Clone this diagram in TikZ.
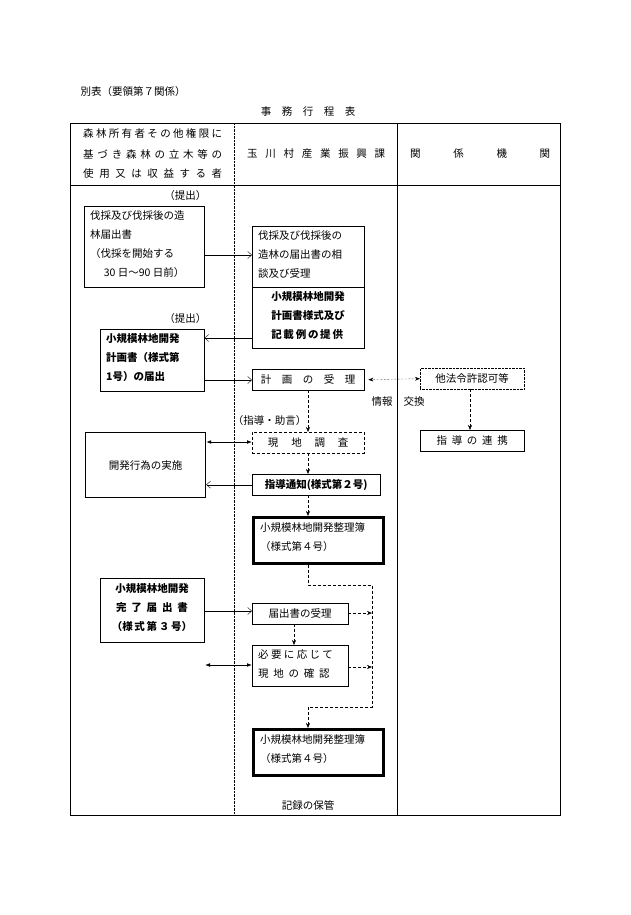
\documentclass[tikz,border=0pt]{standalone}
\usepackage{fontspec}
\setmainfont{Noto Sans CJK JP}
\usetikzlibrary{arrows.meta}
\begin{document}
\begin{tikzpicture}[x=1pt,y=-1pt,font=\fontsize{10.5}{12}\selectfont,
 bx/.style={draw,thin,inner sep=0,anchor=north west},
 bb/.style={bx,font=\fontsize{10.5}{12}\selectfont\bfseries},
 thk/.style={bx,line width=2.6pt},
 oa/.style={-{Straight Barb[length=4pt,width=7pt]}},
 da/.style={densely dashed,-{Stealth[length=5pt,width=4pt]}},
 dba/.style={thick,{Latex[length=5pt]}-{Latex[length=5pt]}}]
\useasboundingbox (0,0) rectangle (630,915);
\node[anchor=west] (ti0) at (77,92) {別表（要領第７関係）};
\node (ti) at (308,112) {事\quad 務\quad 行\quad 程\quad 表};
% table
\draw[thick] (70,123) rectangle (560,815);
\draw[thick] (70,185) -- (560,185);
\draw[densely dotted] (234,123) -- (234,815);
\draw (397,123) -- (397,815);
\node[anchor=west,inner sep=0] (h1) at (83,133) {\makebox[139pt][s]{森\hfill 林\hfill 所\hfill 有\hfill 者\hfill そ\hfill の\hfill 他\hfill 権\hfill 限\hfill に}};
\node[anchor=west,inner sep=0] (h2) at (83,154) {\makebox[139pt][s]{基\hfill づ\hfill き\hfill 森\hfill 林\hfill の\hfill 立\hfill 木\hfill 等\hfill の}};
\node[anchor=west,inner sep=0] (h3) at (83,174) {\makebox[139pt][s]{使\hfill 用\hfill 又\hfill は\hfill 収\hfill 益\hfill す\hfill る\hfill 者}};
\node[anchor=west,inner sep=0] (h4) at (247,154) {\makebox[138pt][s]{玉\hfill 川\hfill 村\hfill 産\hfill 業\hfill 振\hfill 興\hfill 課}};
\node[anchor=west,inner sep=0] (h5) at (410,154) {\makebox[140pt][s]{関\hfill 係\hfill 機\hfill 関}};
% boxes
\node[anchor=east] (t1) at (210,196) {（提出）};
\node[bx,minimum width=120,minimum height=81] (A) at (84,206) {};
\node[anchor=north west,inner sep=0,align=left] (At) at (90,210) {伐採及び伐採後の造\\[7pt]林届出書\\[7pt]（伐採を開始する\\[7pt]\hspace{1.3em}30 日～90 日前）};
\node[bx,minimum width=112,minimum height=61] (B) at (252,226) {};
\node[anchor=north west,inner sep=0,align=left] (Bt) at (258,230) {伐採及び伐採後の\\[7pt]造林の届出書の相\\[7pt]談及び受理};
\node[bx,minimum width=112,minimum height=61] (C) at (252,287) {};
\node[anchor=north,inner sep=0,align=left,font=\fontsize{10.5}{12}\selectfont\bfseries] (Ct) at (308,291) {小規模林地開発\\[7pt]計画書様式及び\\[7pt]記\,載\,例\,の\,提\,供};
\node[anchor=east] (t2) at (210,319) {（提出）};
\node[bx,minimum width=104,minimum height=62] (D) at (100,329) {};
\node[anchor=north west,inner sep=0,align=left,font=\fontsize{10.5}{12}\selectfont\bfseries] (Dt) at (106,333) {小規模林地開発\\[7pt]計画書（様式第\\[7pt]1号）の届出};
\node[bx,minimum width=112,minimum height=21] (E) at (252,369) {計\quad 画\quad の\quad 受\quad 理};
\node[bx,densely dotted,minimum width=104,minimum height=21] (F) at (420,368) {他法令許認可等};
\node (i1) at (382,402) {情報};
\node (i2) at (414,402) {交換};
\node[anchor=east] (t3) at (310,421) {（指導・助言）};
\node[bx,densely dashed,minimum width=112,minimum height=21] (G) at (252,432) {現\quad\ 地\quad\ 調\quad\ 査};
\node[bx,minimum width=104,minimum height=21] (H) at (420,430) {指\ \ 導\ \ の\ \ 連\ \ 携};
\node[bx,line width=1.2pt,minimum width=120,minimum height=65] (I) at (85,432) {開発行為の実施};
\node[bb,minimum width=128,minimum height=21] (J) at (252,474) {指導通知(様式第２号)};
\node[thk,minimum width=130,minimum height=46] (K) at (252,516) {};
\node[anchor=north west,inner sep=0,align=left] (Kt) at (260,522) {小規模林地開発整理簿\\[7pt]（様式第４号）};
\node[bx,minimum width=104,minimum height=64] (L) at (100,578) {};
\node[anchor=north,inner sep=0,align=center,font=\fontsize{10.5}{12}\selectfont\bfseries] (Lt) at (152,583) {小規模林地開発\\[7pt]完\ \ 了\ \ 届\ \ 出\ \ 書\\[7pt]（様\,式\,第\,３\,号）};
\node[bx,minimum width=96,minimum height=21] (M) at (252,603) {届出書の受理};
\node[bx,minimum width=96,minimum height=41] (N) at (252,645) {};
\node[anchor=north west,inner sep=0,align=left] (Nt) at (258,649) {必\ 要\ に\ 応\ じ\ て\\[7pt]現\ \ 地\ \ の\ \ 確\ \ 認};
\node[thk,minimum width=130,minimum height=46] (K2) at (252,728) {};
\node[anchor=north west,inner sep=0,align=left] (K2t) at (260,734) {小規模林地開発整理簿\\[7pt]（様式第４号）};
\node (rec) at (308,805) {記録の保管};
% connectors
\draw[oa] (A.east |- 0,255) -- (B.west |- 0,255);
\draw[oa] (C.west |- 0,338) -- (D.east |- 0,338);
\draw[oa] (D.east |- 0,380) -- (E.west |- 0,380);
\draw[densely dotted,{Stealth[length=5pt]}-{Stealth[length=5pt]}] (E.east) ++(4,0) -- (F.west);
\draw[da] (E.south -| 308,0) -- (G.north -| 308,0);
\draw[da] (F.south -| 470,0) -- (H.north -| 470,0);
\draw[dba] (I.east |- 0,442) -- (G.west |- 0,442);
\draw[da] (G.south -| 308,0) -- (J.north -| 308,0);
\draw[oa] (J.west) -- (I.east |- J.west);
\draw[da] (J.south -| 308,0) -- (K.north -| 308,0);
\draw[densely dashed] (K.south -| 308,0) -- (308,585) -- (372,585) -- (372,707) -- (308,707);
\coordinate (p1) at (372,613);
\coordinate (p2) at (372,667);
\coordinate (p3) at (308,707);
\coordinate (p0) at (205,665);
\draw[da] (p3) -- (K2.north -| 308,0);
\draw[oa] (L.east |- 0,611) -- (M.west |- 0,611);
\draw[da] (M.east |- 0,613) -- (p1);
\draw[da] (M.south -| 294,0) -- (N.north -| 294,0);
\draw[da] (N.east |- 0,667) -- (p2);
\draw[dba] (p0) -- (N.west |- p0);
\end{tikzpicture}
\end{document}
